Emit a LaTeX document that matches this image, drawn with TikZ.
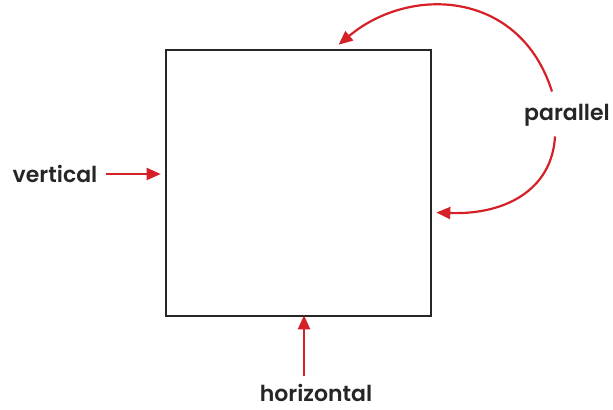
\documentclass[tikz,border=0pt]{standalone}
\usepackage{fontspec}
\setmainfont{Poppins}[BoldFont={Poppins SemiBold}]
\usetikzlibrary{arrows.meta, positioning, calc}
\definecolor{arrowred}{RGB}{214,32,39}
\tikzset{lbl/.style={font=\bfseries\fontsize{11}{13}\selectfont, text=black!85, inner sep=0pt},
         redarrow/.style={draw=arrowred, line width=1.1pt, -{Triangle[length=7pt, width=6pt]}}}

\begin{document}
\begin{tikzpicture}[x=0.5pt, y=-0.5pt]
  \useasboundingbox (0,0) rectangle (613,410);
  \node[draw=black!85, line width=1.3pt, minimum width=132.5pt, minimum height=133pt, inner sep=0pt]
    (sq) at (298.5,183) {};
  \node[lbl] (vert) at (55,174) {vertical};
  \node[lbl] (par) at (567,115) {parallel};
  \node[lbl] (hor) at (316,393) {horizontal};
  \coordinate (topend) at ($(sq.north west)!0.65!(sq.north east)$);
  \coordinate (sideend) at ($(sq.north east)!0.61!(sq.south east)$);
  \coordinate (horstart) at ($(sq.south)+(5.5,59)$);
  \draw[redarrow] ([xshift=4pt]vert.east) -- ([xshift=-2pt]sq.west |- vert.east);
  \draw[redarrow] (horstart) -- ($(sq.south)+(5.5,-2)$);
  \draw[redarrow] ($(par.north)+(-15,-12)$) .. controls (520,-10) and (410,-15) .. ($(topend)+(0,-4)$);
  \draw[redarrow] ($(par.south)+(-12,10)$) .. controls (552,190) and (505,215) .. ($(sideend)+(4,0)$);
\end{tikzpicture}
\end{document}
